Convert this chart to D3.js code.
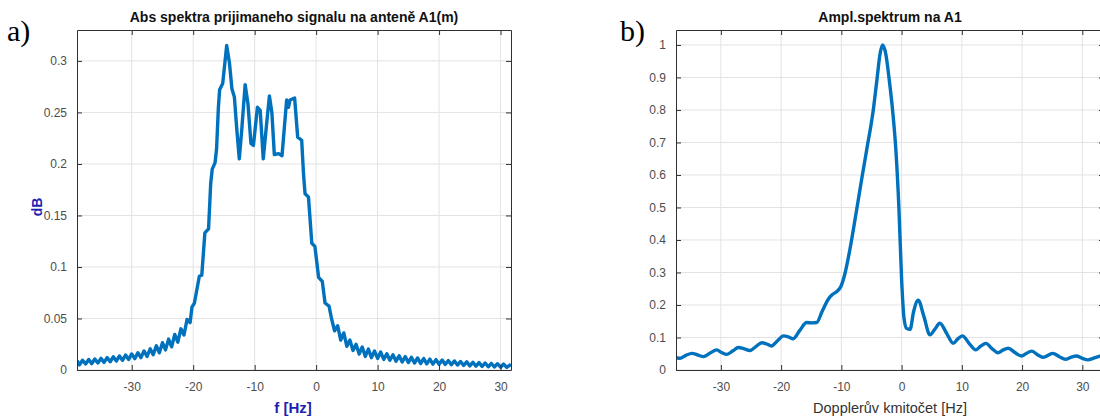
<!DOCTYPE html>
<html>
<head>
<meta charset="utf-8">
<script src="https://cdn.jsdelivr.net/npm/d3@7"></script>
<style>
  body { margin: 0; background: #fff; }
  text { font-family: "Liberation Sans", Arial, sans-serif; }
</style>
</head>
<body>
<svg id="chart" width="1100" height="417"></svg>
<script>
// panel a) - abs spectrum (f [Hz], dB)
const freqA = [-38.9,-38.5,-38,-37.5,-37,-36.5,-36,-35.5,-35,-34.5,-34,-33.5,-33,-32.5,-32,-31.5,-31,-30.5,-30,-29.5,-29,-28.5,-28,-27.5,-27,-26.5,-26,-25.5,-25,-24.5,-24,-23.5,-23,-22.5,-22,-21.5,-21,-20.5,-20.2,-19.8,-19,-18.6,-18.1,-17.5,-17.15,-16.9,-16.45,-16.2,-15.9,-15.7,-15.2,-14.55,-14.1,-13.7,-13.3,-12.9,-12.5,-12.1,-11.55,-11.1,-10.6,-10.2,-9.55,-9.1,-8.6,-8.15,-7.6,-7.2,-6.8,-6.1,-5.55,-4.8,-4.5,-4.25,-3.5,-3,-2.35,-2.05,-1.8,-1.25,-0.7,-0.2,0.4,1,1.45,2.1,2.5,3,3.5,4,4.5,5,5.5,6,6.5,7,7.5,8,8.5,9,9.5,10,10.5,11,11.5,12,12.5,13,13.5,14,14.5,15,15.5,16,16.5,17,17.5,18,18.5,19,19.5,20,20.5,21,21.5,22,22.5,23,23.5,24,24.5,25,25.5,26,26.5,27,27.5,28,28.5,29,29.5,30,30.5,31,31.7];
const ampA = [0.009,0.005,0.0095,0.0058,0.0102,0.0062,0.0107,0.0068,0.0113,0.0074,0.012,0.008,0.0128,0.0087,0.0136,0.0094,0.0145,0.0102,0.0156,0.011,0.0168,0.012,0.0185,0.0132,0.0205,0.0148,0.0235,0.0168,0.0265,0.0195,0.03,0.0225,0.0345,0.027,0.04,0.034,0.049,0.046,0.061,0.065,0.091,0.092,0.133,0.137,0.181,0.195,0.201,0.214,0.255,0.272,0.278,0.315,0.298,0.273,0.265,0.233,0.205,0.233,0.277,0.259,0.22,0.218,0.255,0.252,0.205,0.233,0.266,0.25,0.209,0.21,0.208,0.262,0.255,0.262,0.264,0.226,0.223,0.19,0.171,0.168,0.123,0.12,0.09,0.086,0.065,0.062,0.05,0.038,0.043,0.029,0.036,0.023,0.029,0.019,0.025,0.0155,0.0223,0.0132,0.0203,0.012,0.0184,0.0112,0.0174,0.0103,0.0158,0.0095,0.0148,0.0085,0.0138,0.0078,0.013,0.0072,0.0123,0.0068,0.0117,0.0063,0.0111,0.006,0.0106,0.0057,0.0101,0.0056,0.0096,0.0054,0.0092,0.0051,0.0088,0.0048,0.0083,0.0044,0.0079,0.004,0.0075,0.0037,0.0072,0.0034,0.0068,0.0031,0.0064,0.0029,0.0061,0.0027,0.0058,0.0025,0.0055];
const xTicksA = [-30,-20,-10,0,10,20,30];
const yTicksA = [0,0.05,0.1,0.15,0.2,0.25,0.3];

// panel b) - amplitude spectrum (Doppler frequency)
const freqB = [-37.45,-36.8,-35.8,-34.8,-33.8,-32.9,-31.8,-30.7,-29.9,-29,-28,-27.1,-26.1,-25.2,-24.2,-23.2,-22.4,-21.6,-20.6,-19.6,-18.8,-18,-16.9,-15.75,-14.9,-14.1,-13.2,-12.2,-11.5,-10.8,-10.1,-9.4,-8.6,-7.4,-6.6,-5.8,-4.7,-4.05,-3.6,-3.15,-2.6,-2.1,-1.5,-0.95,-0.45,0,0.4,0.83,1.4,2,2.75,3.7,4.7,5.5,6.35,7.5,8.56,9.3,10.1,11.2,12.3,13.1,14,15,16,16.8,17.7,18.8,19.9,20.7,21.6,22.5,23.5,24.3,25.1,26.2,27.2,28.1,29,30,30.9,32,32.9,33.6];
const ampB = [0.039,0.036,0.045,0.051,0.046,0.041,0.052,0.062,0.054,0.048,0.059,0.069,0.065,0.06,0.072,0.084,0.08,0.074,0.09,0.105,0.102,0.096,0.122,0.146,0.145,0.146,0.18,0.217,0.232,0.241,0.256,0.297,0.369,0.5,0.59,0.677,0.8,0.9,0.97,1.0,0.97,0.9,0.8,0.677,0.5,0.28,0.16,0.128,0.125,0.18,0.215,0.165,0.108,0.125,0.144,0.112,0.082,0.095,0.105,0.082,0.062,0.073,0.082,0.066,0.053,0.061,0.067,0.054,0.043,0.051,0.058,0.048,0.039,0.045,0.051,0.041,0.033,0.039,0.043,0.036,0.031,0.037,0.043,0.046];
const xTicksB = [-30,-20,-10,0,10,20,30];
const yTicksB = [0,0.1,0.2,0.3,0.4,0.5,0.6,0.7,0.8,0.9,1];

const svg = d3.select("#chart");
const lineColor = "#0072bd";
// matlab-like labels, plain hyphen for minus
const fmt = d => String(d);

function drawPanel(opt) {
    const x = d3.scaleLinear().domain(opt.xDomain).range([opt.left, opt.right]);
    const y = d3.scaleLinear().domain(opt.yDomain).range([opt.bottom, opt.top]);
    const g = svg.append("g");

    // grid
    g.selectAll(".gx").data(opt.xTicks).enter().append("line")
        .attr("x1", d => x(d)).attr("x2", d => x(d))
        .attr("y1", opt.top).attr("y2", opt.bottom)
        .attr("stroke", "#e3e3e3").attr("stroke-width", 1);
    g.selectAll(".gy").data(opt.yTicks).enter().append("line")
        .attr("x1", opt.left).attr("x2", opt.right)
        .attr("y1", d => y(d)).attr("y2", d => y(d))
        .attr("stroke", "#e3e3e3").attr("stroke-width", 1);

    // data line
    const clipId = "clip" + opt.name;
    svg.append("clipPath").attr("id", clipId).append("rect")
        .attr("x", opt.left).attr("y", opt.top - 4)
        .attr("width", opt.right - opt.left).attr("height", opt.bottom - opt.top + 4);
    const line = d3.line()
        .x((d, i) => x(opt.xs[i]))
        .y(d => y(d))
        .curve(opt.curve);
    g.append("path")
        .datum(opt.ys)
        .attr("clip-path", "url(#" + clipId + ")")
        .attr("d", line)
        .attr("fill", "none")
        .attr("stroke", lineColor)
        .attr("stroke-width", 3.4)
        .attr("stroke-linejoin", "round");

    // axes (ticks inside, box)
    const axCol = "#303030";
    const xb = g.append("g").attr("transform", `translate(0,${opt.bottom})`)
        .call(d3.axisBottom(x).tickValues(opt.xTicks).tickSizeInner(-5).tickSizeOuter(0).tickPadding(12).tickFormat(fmt));
    const xt = g.append("g").attr("transform", `translate(0,${opt.top})`)
        .call(d3.axisTop(x).tickValues(opt.xTicks).tickSizeInner(-5).tickSizeOuter(0).tickFormat(""));
    const yl = g.append("g").attr("transform", `translate(${opt.left},0)`)
        .call(d3.axisLeft(y).tickValues(opt.yTicks).tickSizeInner(-5).tickSizeOuter(0).tickPadding(10).tickFormat(fmt));
    const yr = g.append("g").attr("transform", `translate(${opt.right},0)`)
        .call(d3.axisRight(y).tickValues(opt.yTicks).tickSizeInner(-5).tickSizeOuter(0).tickFormat(""));
    [xb, xt, yl, yr].forEach(a => {
        a.select(".domain").attr("stroke", axCol).attr("stroke-width", 1);
        a.selectAll(".tick line").attr("stroke", axCol);
        a.selectAll("text").attr("fill", "#4d4d4d").style("font-size", "12px")
            .style("font-family", "'Liberation Sans', Arial, sans-serif");
    });

    // title
    svg.append("text")
        .attr("x", (opt.left + opt.right) / 2).attr("y", 22)
        .attr("text-anchor", "middle")
        .style("font-size", "14px").style("font-weight", "bold")
        .attr("fill", "#111")
        .text(opt.title);

    // panel letter
    svg.append("text")
        .attr("x", opt.letterX).attr("y", 41)
        .style("font-family", "'Liberation Serif', 'Times New Roman', serif")
        .style("font-size", "30px")
        .attr("fill", "#000")
        .text(opt.letter);
}

drawPanel({
    name: "A", letter: "a)", letterX: 7,
    title: "Abs spektra prijimaneho signalu na anteně A1(m)",
    left: 77, right: 511, top: 30, bottom: 370,
    xDomain: [-38.9, 31.7], yDomain: [0, 0.33],
    xTicks: xTicksA, yTicks: yTicksA,
    xs: freqA, ys: ampA, curve: d3.curveLinear
});

drawPanel({
    name: "B", letter: "b)", letterX: 620,
    title: "Ampl.spektrum na A1",
    left: 676, right: 1104, top: 30, bottom: 370,
    xDomain: [-37.45, 33.6], yDomain: [0, 1.046],
    xTicks: xTicksB, yTicks: yTicksB,
    xs: freqB, ys: ampB, curve: d3.curveMonotoneX
});

// axis labels
svg.append("text")
    .attr("transform", "translate(42,207) rotate(-90)")
    .attr("text-anchor", "middle")
    .style("font-size", "14px").style("font-weight", "bold")
    .attr("fill", "#1f1fb4")
    .text("dB");
svg.append("text")
    .attr("x", 293).attr("y", 413)
    .attr("text-anchor", "middle")
    .style("font-size", "15px").style("font-weight", "bold")
    .attr("fill", "#1f1fb4")
    .text("f [Hz]");
svg.append("text")
    .attr("x", 890).attr("y", 413)
    .attr("text-anchor", "middle")
    .style("font-size", "14.5px")
    .attr("fill", "#333")
    .text("Dopplerův kmitočet [Hz]");
</script>
</body>
</html>
